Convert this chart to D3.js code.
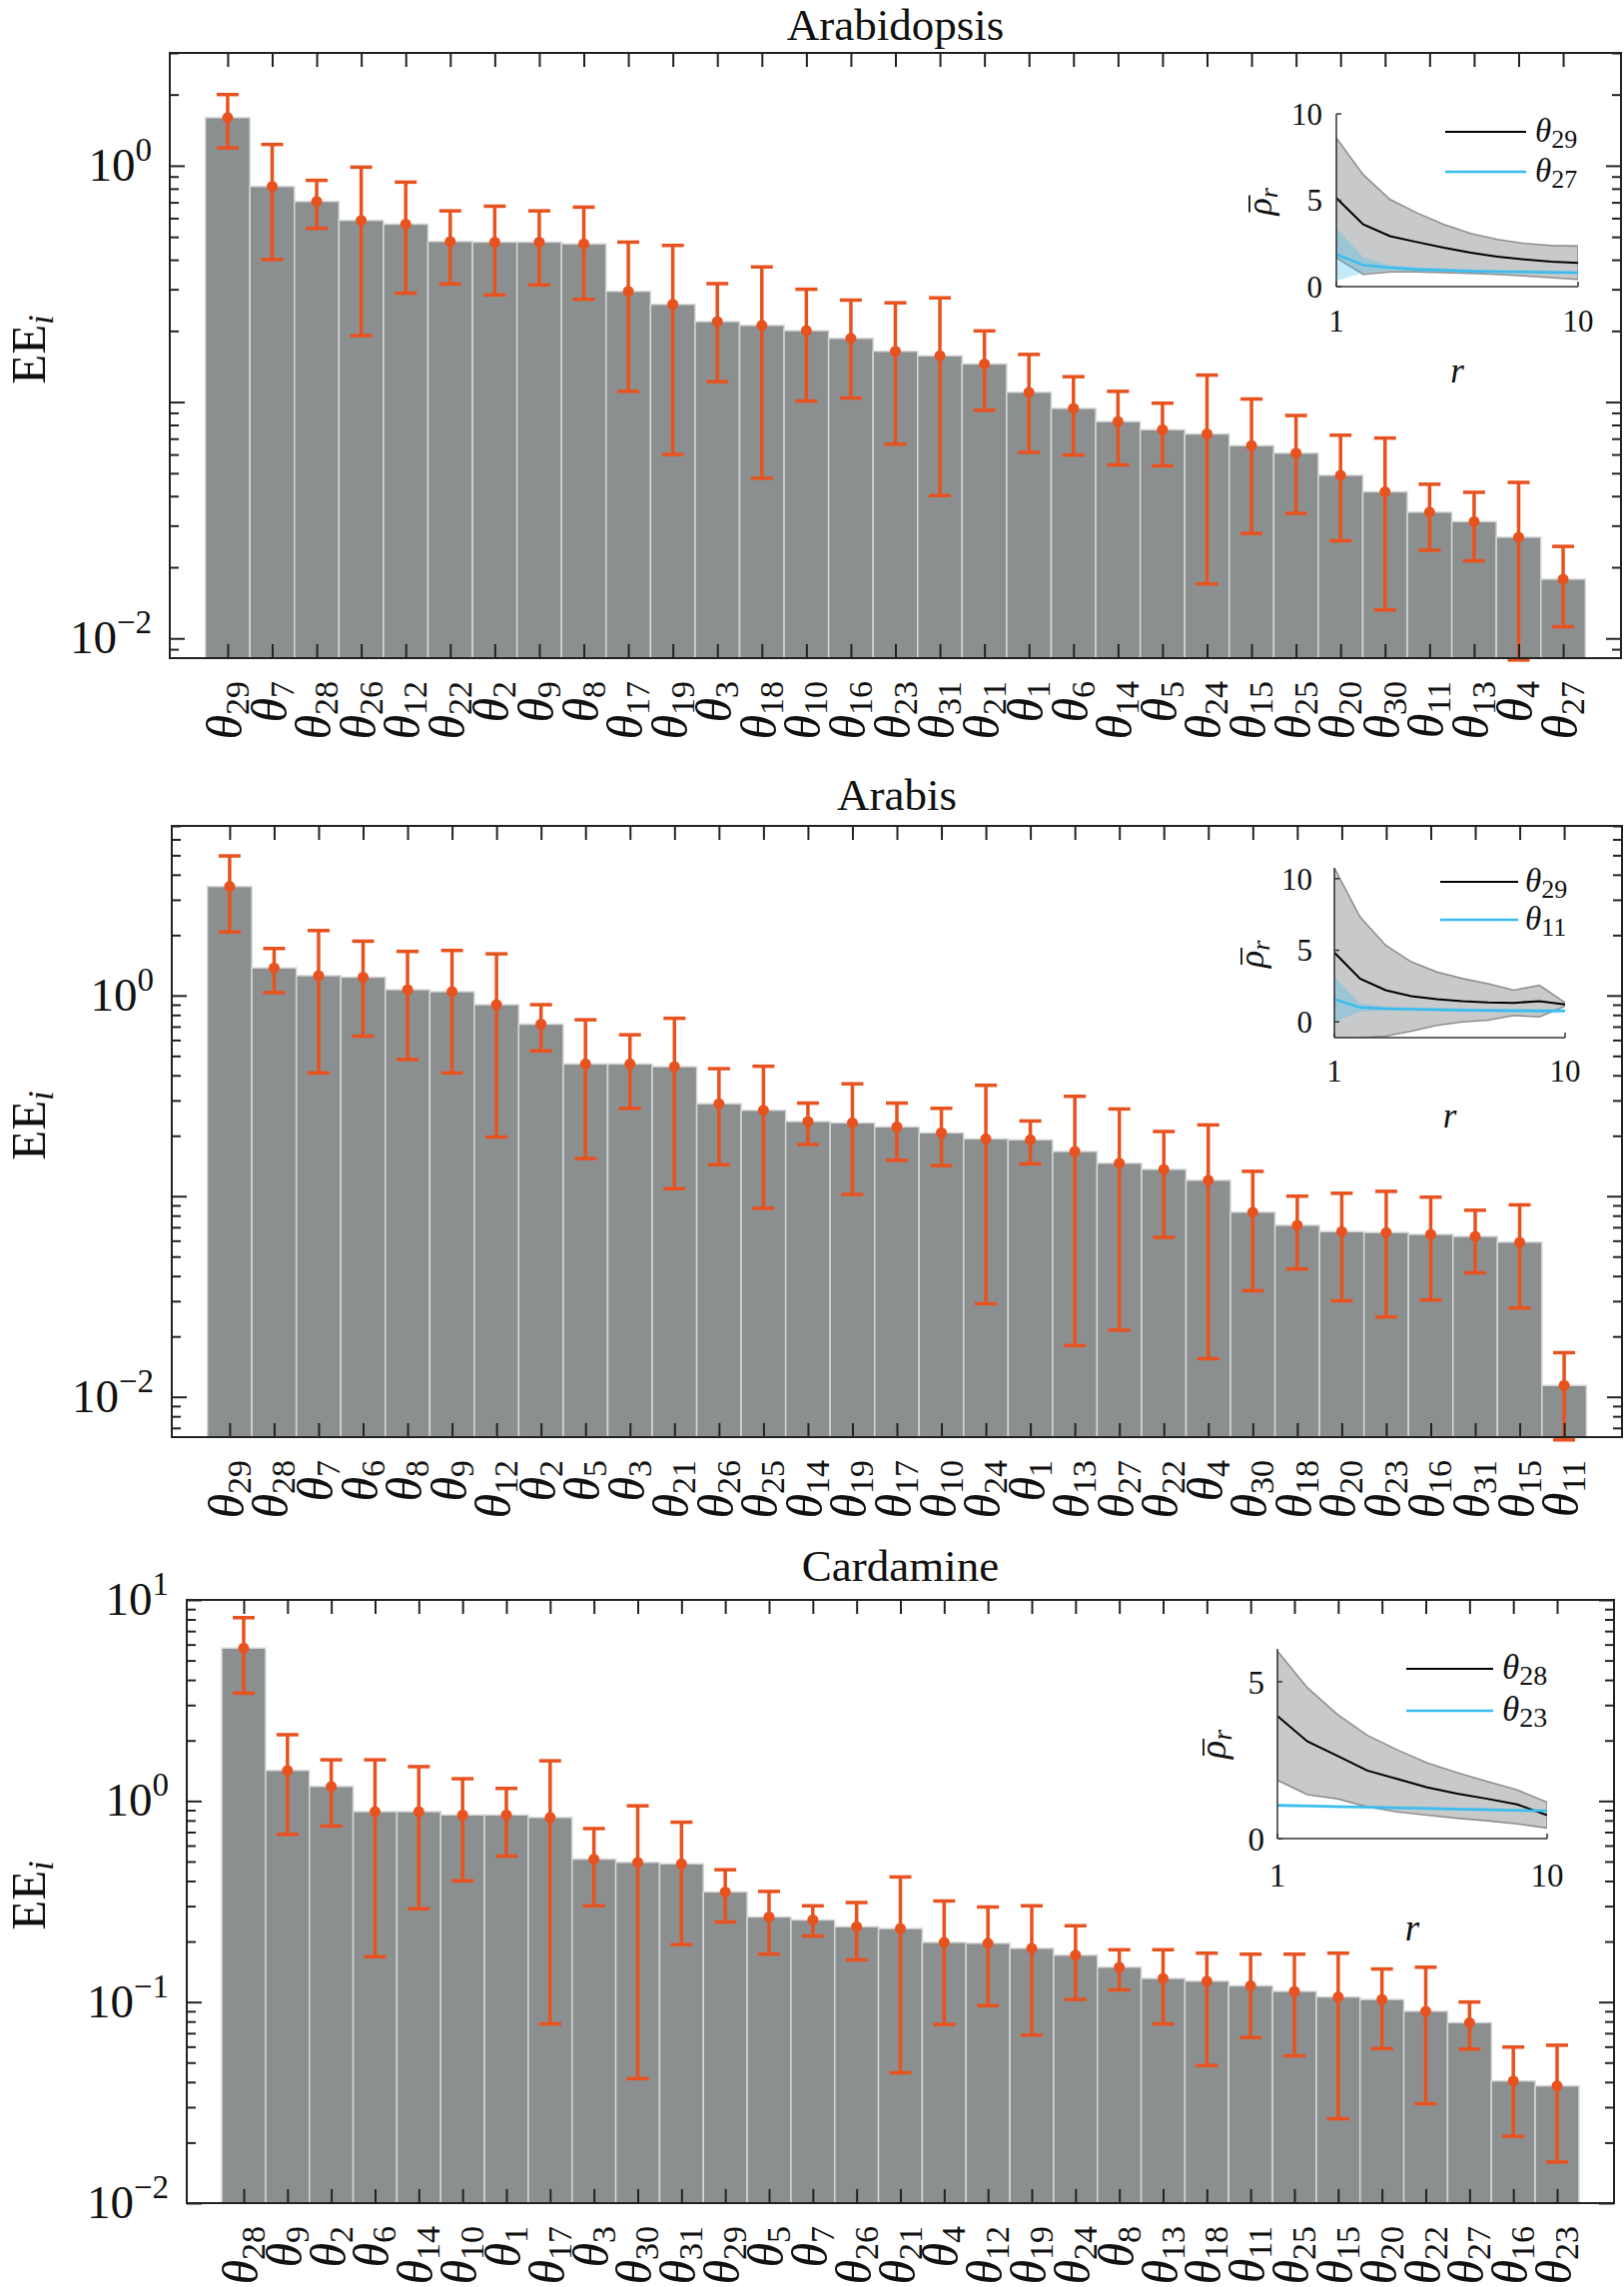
<!DOCTYPE html>
<html><head><meta charset="utf-8">
<script src="https://cdn.jsdelivr.net/npm/d3@7"></script>
<style>body{margin:0;background:#fff}</style>
</head><body>
<svg id="chart" width="1626" height="2290"></svg>
<script>
// ---------------- DATA ----------------
// Panel 1: Arabidopsis
const arabidopsisParams = [29,7,28,26,12,22,2,9,8,17,19,3,18,10,16,23,31,21,1,6,14,5,24,15,25,20,30,11,13,4,27];
const arabidopsisEE    = [1.597,0.817,0.706,0.587,0.566,0.478,0.475,0.475,0.467,0.294,0.259,0.219,0.211,0.2005,0.186,0.164,0.157,0.145,0.110,0.094,0.0827,0.0764,0.0733,0.0654,0.0608,0.049,0.0417,0.0342,0.0312,0.0268,0.0178];
const arabidopsisUpper = [2.0,1.23,0.867,0.986,0.852,0.644,0.674,0.644,0.668,0.475,0.460,0.317,0.373,0.300,0.270,0.263,0.276,0.200,0.159,0.128,0.111,0.0989,0.130,0.103,0.0877,0.0724,0.0704,0.0449,0.0415,0.0457,0.0245];
const arabidopsisLower = [1.19,0.401,0.543,0.191,0.289,0.316,0.284,0.313,0.272,0.111,0.060,0.122,0.0476,0.101,0.104,0.0663,0.0402,0.0923,0.0613,0.0597,0.0542,0.0537,0.0170,0.0278,0.0338,0.0259,0.0132,0.0236,0.0213,0.0081,0.0112];
const arabidopsisYLim = [0.00825, 3.0];
const arabidopsisYLabels = [0.01, 1];

// Panel 2: Arabis
const arabisParams = [29,28,7,6,8,9,12,2,5,3,21,26,25,14,19,17,10,24,1,13,27,22,4,30,18,20,23,16,31,15,11];
const arabisEE    = [3.495,1.373,1.256,1.235,1.069,1.045,0.90,0.72,0.456,0.456,0.442,0.289,0.268,0.2355,0.232,0.2215,0.207,0.193,0.191,0.167,0.146,0.136,0.120,0.0832,0.0716,0.0666,0.0659,0.0645,0.063,0.059,0.0114];
const arabisUpper = [4.96,1.715,2.107,1.865,1.659,1.677,1.613,0.90,0.757,0.637,0.77,0.432,0.444,0.291,0.363,0.291,0.274,0.357,0.237,0.3145,0.272,0.210,0.2265,0.133,0.100,0.1034,0.1057,0.0989,0.0851,0.0905,0.0166];
const arabisLower = [2.072,1.034,0.411,0.627,0.48,0.411,0.197,0.53,0.154,0.274,0.109,0.1435,0.087,0.181,0.102,0.151,0.142,0.0291,0.145,0.018,0.0215,0.0623,0.0155,0.0338,0.0434,0.0301,0.025,0.0304,0.0415,0.0277,0.0061];
const arabisYLim = [0.0063, 7.0];
const arabisYLabels = [0.01, 1];

// Panel 3: Cardamine
const cardamineParams = [28,9,2,6,14,10,1,17,3,30,31,29,5,7,26,21,4,12,19,24,8,13,18,11,25,15,20,22,27,16,23];
const cardamineEE    = [5.757,1.418,1.181,0.885,0.885,0.852,0.852,0.828,0.514,0.495,0.487,0.353,0.265,0.256,0.237,0.232,0.198,0.196,0.185,0.171,0.149,0.131,0.127,0.1205,0.113,0.106,0.103,0.090,0.079,0.0405,0.0383];
const cardamineUpper = [8.16,2.136,1.602,1.602,1.482,1.29,1.155,1.584,0.729,0.946,0.784,0.455,0.355,0.301,0.3125,0.419,0.318,0.297,0.301,0.2395,0.182,0.182,0.175,0.173,0.173,0.175,0.146,0.149,0.100,0.0597,0.061];
const cardamineLower = [3.439,0.682,0.75,0.168,0.291,0.401,0.532,0.0778,0.301,0.0416,0.193,0.250,0.173,0.213,0.162,0.0445,0.0774,0.096,0.0685,0.103,0.115,0.0778,0.0483,0.0666,0.054,0.0263,0.0587,0.0312,0.0583,0.0215,0.016];
const cardamineYLim = [0.01, 10];
const cardamineYLabels = [0.01, 0.1, 1, 10];

// Insets: mean rho_r vs r with +/- band
const rValues = [1,2,3,4,5,6,7,8,9,10];
// Arabidopsis inset (theta29 black, theta27 cyan)
const arabidopsisInsetTopName = 29, arabidopsisInsetLowName = 27;
const arabidopsisTopMean  = [5.13,3.6,2.92,2.58,2.25,1.96,1.73,1.58,1.44,1.38];
const arabidopsisTopUpper = [8.6,6.48,5.04,4.27,3.6,3.08,2.73,2.5,2.38,2.35];
const arabidopsisTopLower = [1.67,0.71,0.85,0.85,0.81,0.77,0.71,0.62,0.52,0.42];
const arabidopsisLowMean  = [1.87,1.25,1.1,1.0,0.96,0.9,0.87,0.85,0.83,0.81];
const arabidopsisLowUpper = [3.4,1.7,1.25,1.12,1.06,1.0,0.96,0.94,0.92,0.9];
const arabidopsisLowLower = [0.34,0.8,0.95,0.88,0.86,0.8,0.78,0.76,0.74,0.72];
const arabidopsisInsetYLim = [0, 10];
const arabidopsisInsetYTicks = [0, 5, 10];
// Arabis inset (theta29 black, theta11 cyan)
const arabisInsetTopName = 29, arabisInsetLowName = 11;
const arabisTopMean  = [4.84,3.02,2.21,1.79,1.58,1.44,1.35,1.33,1.44,1.21];
const arabisTopUpper = [10.74,7.33,5.35,4.19,3.49,3.02,2.67,2.21,2.56,1.35];
const arabisTopLower = [-1.06,-1.1,-1.0,-0.65,-0.25,0.0,0.12,0.45,0.35,1.1];
const arabisLowMean  = [1.58,1.0,0.93,0.88,0.85,0.82,0.8,0.78,0.77,0.77];
const arabisLowUpper = [3.14,1.28,1.06,1.0,0.97,0.94,0.92,0.91,0.91,0.93];
const arabisLowLower = [0.02,0.72,0.8,0.76,0.73,0.7,0.68,0.65,0.63,0.61];
const arabisInsetYLim = [-1.1, 10.75];
const arabisInsetYTicks = [0, 5, 10];
// Cardamine inset (theta28 black, theta23 cyan)
const cardamineInsetTopName = 28, cardamineInsetLowName = 23;
const cardamineTopMean  = [3.91,3.1,2.64,2.17,1.9,1.63,1.43,1.27,1.09,0.75];
const cardamineTopUpper = [5.98,4.81,3.96,3.29,2.83,2.41,2.1,1.82,1.55,1.16];
const cardamineTopLower = [1.86,1.4,1.27,1.01,0.85,0.75,0.65,0.57,0.47,0.34];
const cardamineLowMean  = [1.06,1.04,1.02,1.0,0.98,0.96,0.94,0.92,0.9,0.88];
const cardamineLowUpper = [1.12,1.09,1.07,1.05,1.03,1.01,0.99,0.97,0.95,0.93];
const cardamineLowLower = [1.0,0.99,0.97,0.95,0.93,0.91,0.89,0.87,0.85,0.83];
const cardamineInsetYLim = [0, 6.05];
const cardamineInsetYTicks = [0, 5];
const insetXTicks = [1, 10];

// ---------------- LAYOUT / STYLE ----------------
const SERIF = '"Liberation Serif","DejaVu Serif","Times New Roman",serif';
const ORANGE = "#e8521f", BARFILL = "#8c8f90", BAREDGE = "#d4d6d7";
const BANDGRAY = "#c8c9ca", BANDEDGE = "#8d8f90", CYAN = "#38bdee";

const panels = [
  {params: arabidopsisParams, ee: arabidopsisEE, up: arabidopsisUpper, lo: arabidopsisLower,
   yLim: arabidopsisYLim, yLabels: arabidopsisYLabels, title: "Arabidopsis",
   box: {left: 170, right: 1623, top: 53, bottom: 659}, titleY: 40,
   inset: {x0: 1338, x1: 1580, top: 114, bottom: 287, yLim: arabidopsisInsetYLim, yTicks: arabidopsisInsetYTicks,
     topMean: arabidopsisTopMean, topUp: arabidopsisTopUpper, topLo: arabidopsisTopLower,
     lowMean: arabidopsisLowMean, lowUp: arabidopsisLowUpper, lowLo: arabidopsisLowLower,
     names: [arabidopsisInsetTopName, arabidopsisInsetLowName],
     yLabGap: 14, xLabDy: 34, rDy: 84, rhoX: 1266, legX0: 1447, legX1: 1528, legY: [132, 172], legTextX: 1537, fs: 31}},
  {params: arabisParams, ee: arabisEE, up: arabisUpper, lo: arabisLower,
   yLim: arabisYLim, yLabels: arabisYLabels, title: "Arabis",
   box: {left: 172, right: 1624, top: 827, bottom: 1439}, titleY: 811,
   inset: {x0: 1336, x1: 1567, top: 869, bottom: 1039, yLim: arabisInsetYLim, yTicks: arabisInsetYTicks,
     topMean: arabisTopMean, topUp: arabisTopUpper, topLo: arabisTopLower,
     lowMean: arabisLowMean, lowUp: arabisLowUpper, lowLo: arabisLowLower,
     names: [arabisInsetTopName, arabisInsetLowName],
     yLabGap: 22, xLabDy: 33, rDy: 78, rhoX: 1258, legX0: 1442, legX1: 1520, legY: [883, 921], legTextX: 1527, fs: 31}},
  {params: cardamineParams, ee: cardamineEE, up: cardamineUpper, lo: cardamineLower,
   yLim: cardamineYLim, yLabels: cardamineYLabels, title: "Cardamine",
   box: {left: 187, right: 1616, top: 1602, bottom: 2206}, titleY: 1583,
   inset: {x0: 1279, x1: 1549, top: 1651, bottom: 1841, yLim: cardamineInsetYLim, yTicks: cardamineInsetYTicks,
     topMean: cardamineTopMean, topUp: cardamineTopUpper, topLo: cardamineTopLower,
     lowMean: cardamineLowMean, lowUp: cardamineLowUpper, lowLo: cardamineLowLower,
     names: [cardamineInsetTopName, cardamineInsetLowName],
     yLabGap: 13, xLabDy: 36, rDy: 89, rhoX: 1220, legX0: 1408, legX1: 1495, legY: [1671, 1713], legTextX: 1504, fs: 33}}
];

const svg = d3.select("#chart");
svg.append("rect").attr("width", 1626).attr("height", 2290).attr("fill", "#fff");
const defs = svg.append("defs");

function supLabel(v) {
  const e = Math.round(Math.log10(v));
  return {base: "10", exp: e < 0 ? "\u2212" + (-e) : String(e)};
}

panels.forEach((p, pi) => {
  const g = svg.append("g");
  const b = p.box;
  const x = d3.scaleLinear().domain([-0.3, 32.3]).range([b.left, b.right]);
  const y = d3.scaleLog().domain(p.yLim).range([b.bottom, b.top]);
  const n = p.ee.length;
  const idx = d3.range(1, n + 1);

  // bars
  g.append("g").selectAll("rect").data(p.ee).join("rect")
    .attr("x", (d, i) => x(i + 0.5))
    .attr("width", (d, i) => x(i + 1.5) - x(i + 0.5))
    .attr("y", d => y(d))
    .attr("height", d => b.bottom - y(d))
    .attr("fill", BARFILL).attr("stroke", BAREDGE).attr("stroke-width", 1.5);

  // error bars
  const eg = g.append("g").attr("stroke", ORANGE).attr("stroke-width", 3.5).attr("fill", "none");
  eg.selectAll("line.v").data(p.ee).join("line").attr("class", "v")
    .attr("x1", (d, i) => x(i + 1)).attr("x2", (d, i) => x(i + 1))
    .attr("y1", (d, i) => y(p.up[i])).attr("y2", (d, i) => y(p.lo[i]));
  eg.selectAll("line.ct").data(p.ee).join("line").attr("class", "ct")
    .attr("x1", (d, i) => x(i + 1) - 11).attr("x2", (d, i) => x(i + 1) + 11)
    .attr("y1", (d, i) => y(p.up[i])).attr("y2", (d, i) => y(p.up[i]));
  eg.selectAll("line.cb").data(p.ee).join("line").attr("class", "cb")
    .attr("x1", (d, i) => x(i + 1) - 11).attr("x2", (d, i) => x(i + 1) + 11)
    .attr("y1", (d, i) => y(p.lo[i])).attr("y2", (d, i) => y(p.lo[i]));
  g.append("g").selectAll("circle").data(p.ee).join("circle")
    .attr("cx", (d, i) => x(i + 1)).attr("cy", d => y(d)).attr("r", 5.5).attr("fill", ORANGE);

  // axes ticks (inward)
  const allY = y.ticks();
  const majorY = allY.filter(v => Math.abs(Math.log10(v) - Math.round(Math.log10(v))) < 1e-9);
  const minorY = allY.filter(v => !majorY.includes(v));
  const ax = g.append("g");
  ax.append("g").attr("transform", `translate(0,${b.bottom})`)
    .call(d3.axisBottom(x).tickValues(idx).tickSize(-14).tickSizeOuter(0).tickFormat(""));
  ax.append("g").attr("transform", `translate(0,${b.top})`)
    .call(d3.axisTop(x).tickValues(idx).tickSize(-14).tickSizeOuter(0).tickFormat(""));
  [[b.left, d3.axisLeft], [b.right, d3.axisRight]].forEach(([xx, fn]) => {
    ax.append("g").attr("transform", `translate(${xx},0)`)
      .call(fn(y).tickValues(majorY).tickSize(-15).tickSizeOuter(0).tickFormat(""));
    ax.append("g").attr("transform", `translate(${xx},0)`)
      .call(fn(y).tickValues(minorY).tickSize(-9).tickSizeOuter(0).tickFormat(""));
  });
  ax.selectAll("path.domain").remove();
  ax.selectAll(".tick line").attr("stroke", "#222").attr("stroke-width", 2);
  g.append("rect").attr("x", b.left).attr("y", b.top)
    .attr("width", b.right - b.left).attr("height", b.bottom - b.top)
    .attr("fill", "none").attr("stroke", "#222").attr("stroke-width", 2);

  // y tick labels
  p.yLabels.forEach(v => {
    const L = supLabel(v);
    const t = g.append("text").attr("x", b.left - 18).attr("y", y(v) + 15)
      .attr("text-anchor", "end").attr("font-family", SERIF).attr("font-size", 47).attr("fill", "#111");
    t.append("tspan").text(L.base);
    t.append("tspan").attr("font-size", 33).attr("dy", -20).text(L.exp);
  });

  // x tick labels (rotated)
  p.params.forEach((k, i) => {
    const t = g.append("text")
      .attr("transform", `translate(${x(i + 1) + 14},${b.bottom + 23}) rotate(-90)`)
      .attr("text-anchor", "end").attr("font-family", SERIF).attr("font-size", 50)
      .attr("font-style", "italic").attr("fill", "#111");
    t.append("tspan").text("\u03b8");
    t.append("tspan").attr("font-size", 34).attr("dy", 7).attr("font-style", "normal").text(k);
  });

  // y axis label
  const yl = g.append("text")
    .attr("transform", `translate(45,${(b.top + b.bottom) / 2 - 6}) rotate(-90)`)
    .attr("text-anchor", "middle").attr("font-family", SERIF).attr("font-size", 49).attr("fill", "#111");
  yl.append("tspan").text("EE");
  yl.append("tspan").attr("font-size", 35).attr("dy", 8).attr("font-style", "italic").text("i");

  // title
  g.append("text").attr("x", (b.left + b.right) / 2).attr("y", p.titleY)
    .attr("text-anchor", "middle").attr("font-family", SERIF).attr("font-size", 45).attr("fill", "#111")
    .text(p.title);

  // ---------- inset ----------
  const s = p.inset;
  const xi = d3.scaleLinear().domain([1, 10]).range([s.x0, s.x1]);
  const yi = d3.scaleLinear().domain(s.yLim).range([s.bottom, s.top]);
  const clipId = "clip" + pi;
  defs.append("clipPath").attr("id", clipId).append("rect")
    .attr("x", s.x0).attr("y", s.top).attr("width", s.x1 - s.x0).attr("height", s.bottom - s.top);
  const ig = svg.append("g");
  const cg = ig.append("g").attr("clip-path", `url(#${clipId})`);
  const area = (up, lo) => d3.area().x((d, i) => xi(rValues[i])).y0((d, i) => yi(lo[i])).y1((d, i) => yi(up[i]))(rValues);
  const line = (m) => d3.line().x((d, i) => xi(rValues[i])).y((d, i) => yi(m[i]))(rValues);
  cg.append("path").attr("d", area(s.topUp, s.topLo)).attr("fill", BANDGRAY)
    .attr("stroke", BANDEDGE).attr("stroke-width", 1.6);
  cg.append("path").attr("d", area(s.lowUp, s.lowLo)).attr("fill", CYAN).attr("fill-opacity", 0.3)
    .attr("stroke", "none");
  cg.append("path").attr("d", line(s.topMean)).attr("fill", "none").attr("stroke", "#000").attr("stroke-width", 2);
  cg.append("path").attr("d", line(s.lowMean)).attr("fill", "none").attr("stroke", CYAN).attr("stroke-width", 2.5);
  // inset axes
  ig.append("line").attr("x1", s.x0).attr("x2", s.x0).attr("y1", s.top).attr("y2", s.bottom)
    .attr("stroke", "#333").attr("stroke-width", 1.5);
  ig.append("line").attr("x1", s.x0).attr("x2", s.x1).attr("y1", s.bottom).attr("y2", s.bottom)
    .attr("stroke", "#333").attr("stroke-width", 1.5);
  s.yTicks.forEach(v => {
    ig.append("line").attr("x1", s.x0).attr("x2", s.x0 + 5).attr("y1", yi(v)).attr("y2", yi(v))
      .attr("stroke", "#333").attr("stroke-width", 1.5);
    ig.append("text").attr("x", s.x0 - s.yLabGap).attr("y", yi(v)).attr("dy", "0.35em")
      .attr("text-anchor", "end").attr("font-family", SERIF).attr("font-size", s.fs).attr("fill", "#111").text(v);
  });
  insetXTicks.forEach(v => {
    ig.append("line").attr("x1", xi(v)).attr("x2", xi(v)).attr("y1", s.bottom).attr("y2", s.bottom - 5)
      .attr("stroke", "#333").attr("stroke-width", 1.5);
    ig.append("text").attr("x", xi(v)).attr("y", s.bottom + s.xLabDy).attr("dy", "0.35em")
      .attr("text-anchor", "middle").attr("font-family", SERIF).attr("font-size", s.fs).attr("fill", "#111").text(v);
  });
  ig.append("text").attr("x", (s.x0 + s.x1) / 2).attr("y", s.bottom + s.rDy).attr("dy", "0.35em")
    .attr("text-anchor", "middle").attr("font-family", SERIF).attr("font-size", s.fs + 4)
    .attr("font-style", "italic").attr("fill", "#111").text("r");
  // rho-bar label
  const rg = ig.append("g").attr("transform", `translate(${s.rhoX},${(s.top + s.bottom) / 2}) rotate(-90)`);
  const rt = rg.append("text").attr("x", -15).attr("y", 7).attr("font-family", SERIF)
    .attr("font-size", s.fs + 5).attr("font-style", "italic").attr("fill", "#111");
  rt.append("tspan").text("\u03c1");
  rt.append("tspan").attr("font-size", s.fs - 5).attr("dy", 6).text("r");
  rg.append("line").attr("x1", -12).attr("x2", 5).attr("y1", -15).attr("y2", -15)
    .attr("stroke", "#111").attr("stroke-width", 1.8);
  // legend
  [["#000", 2, s.names[0]], [CYAN, 2.5, s.names[1]]].forEach(([c, w, nm], k) => {
    ig.append("line").attr("x1", s.legX0).attr("x2", s.legX1).attr("y1", s.legY[k]).attr("y2", s.legY[k])
      .attr("stroke", c).attr("stroke-width", w);
    const lt = ig.append("text").attr("x", s.legTextX).attr("y", s.legY[k] + 10)
      .attr("font-family", SERIF).attr("font-size", s.fs + 2).attr("font-style", "italic").attr("fill", "#111");
    lt.append("tspan").text("\u03b8");
    lt.append("tspan").attr("font-size", s.fs - 5).attr("dy", 6).attr("font-style", "normal").text(nm);
  });
});
</script>
</body></html>
